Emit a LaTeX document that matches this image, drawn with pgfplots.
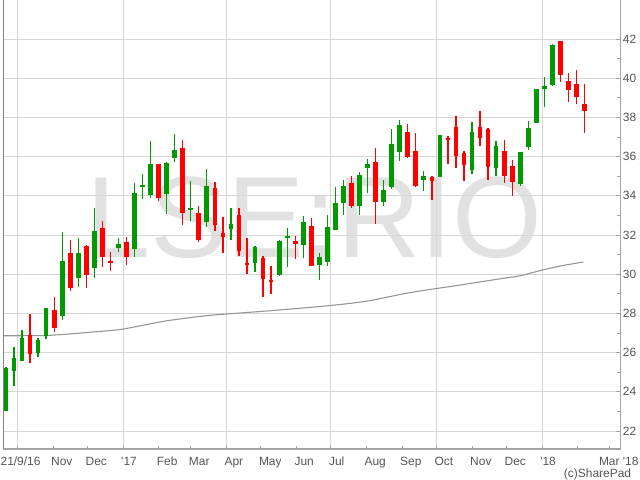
\documentclass[border=0pt]{standalone}
\usepackage{pgfplots}
\pgfplotsset{compat=1.18}
\usepackage{pgfplotstable}
\usepackage{fontspec}
\setmainfont{Liberation Sans}

\definecolor{cgreen}{RGB}{0,153,0}
\definecolor{cred}{RGB}{255,0,0}
\definecolor{gridc}{RGB}{214,214,214}
\definecolor{wmark}{RGB}{225,225,225}
\definecolor{axc}{RGB}{165,165,165}
\definecolor{leftc}{RGB}{130,130,130}
\definecolor{txt}{RGB}{85,85,85}
\definecolor{mac}{RGB}{150,150,150}

% weekly candles, x = days since 1 Jan 2017
\pgfplotstableread{
d o h l c
-102 23.00 25.25 23.00 25.19
-95 25.04 26.30 24.27 25.74
-88 25.55 27.17 25.55 26.76
-74 25.99 26.76 25.75 26.66
-67 26.86 28.29 26.67 28.29
-53 27.88 32.17 27.68 30.69
-39 29.79 31.85 29.33 31.10
-25 30.30 33.38 29.80 32.22
-4 31.35 31.85 31.11 31.56
10 31.27 34.67 30.86 34.16
17 34.43 35.11 33.82 34.57
24 34.03 36.80 33.89 35.64
38 34.08 35.74 33.06 35.69
45 35.91 37.16 35.71 36.36
59 33.31 34.76 32.71 33.38
73 32.65 35.37 32.39 34.52
94 32.31 33.37 31.72 32.55
115 30.58 31.45 30.10 31.38
136 29.97 31.75 29.90 31.67
143 31.86 32.35 30.37 31.93
157 31.50 32.96 30.83 32.66
171 30.48 31.09 29.68 30.87
178 30.61 33.00 30.43 32.40
185 32.26 34.44 32.26 33.63
192 33.64 34.83 33.00 34.49
206 33.47 35.21 33.00 35.06
213 35.43 35.86 34.12 35.62
227 33.69 34.80 33.49 34.29
234 34.46 37.39 34.34 36.64
241 36.21 37.86 35.80 37.61
262 34.83 35.28 34.22 35.02
276 34.97 37.11 34.97 37.11
304 35.34 37.76 35.11 37.27
325 35.40 36.79 35.00 36.55
346 34.61 36.25 34.48 36.25
353 36.47 37.83 36.33 37.47
360 37.69 39.46 37.69 39.46
367 39.43 40.08 38.53 39.62
374 39.67 41.76 39.58 41.71
}\greentab

\pgfplotstableread{
d o h l c
-81 26.91 27.97 25.45 25.91
-60 28.19 28.85 27.03 27.23
-46 31.10 31.76 29.12 29.28
-32 31.46 31.51 29.29 29.97
-18 32.37 32.73 30.35 30.86
-11 30.65 31.13 30.14 30.58
3 31.66 31.91 30.45 30.89
31 35.64 35.64 33.72 33.87
52 36.46 36.85 32.51 33.11
66 33.14 33.48 31.63 31.73
80 34.39 34.70 32.21 32.50
87 32.09 32.91 31.09 31.91
101 33.01 33.40 30.92 31.17
108 30.58 31.84 30.00 30.51
122 30.82 30.95 28.83 29.76
129 29.69 30.44 29.01 29.61
150 31.69 31.94 30.80 31.55
164 32.45 32.86 30.43 30.43
199 34.65 35.00 33.40 33.47
220 35.74 36.42 32.54 33.69
248 37.27 37.64 35.91 35.99
255 36.30 37.20 34.43 34.51
269 34.97 35.02 33.76 34.73
283 36.95 37.03 35.60 36.88
290 37.52 38.07 35.43 36.01
297 36.20 36.28 34.77 35.55
311 37.51 38.34 36.54 36.93
318 37.42 37.47 34.82 35.45
332 36.30 36.86 34.65 34.99
339 35.53 35.82 34.00 34.68
381 41.91 41.91 39.79 40.14
388 39.87 40.26 38.77 39.41
395 39.72 40.43 38.68 39.02
402 38.70 39.72 37.18 38.31
}\redtab

\begin{document}
\begin{tikzpicture}
% watermark (behind everything)
\node[text=wmark, font=\fontsize{116}{116}\selectfont, inner sep=0pt] at (311.2bp,231bp) {LSE:RIO};
\begin{axis}[
  name=ax, at={(0,0)}, anchor=south west,
  scale only axis, width=617.4bp, height=449bp,
  xmin=-104.3, xmax=433.5, ymin=21.08, ymax=43.99,
  axis x line*=bottom, axis y line*=right,
  axis line style={draw=axc, line width=1.2bp},
  tick align=inside,
  tick style={draw=axc, line width=0.9bp},
  major tick length=5bp, minor tick length=4bp,
  ytick={22,24,...,42}, minor y tick num=1,
  ymajorgrids, major grid style={draw=gridc, line width=0.9bp},
  xtick={-92,-61,-31,0,31,59,90,120,151,181,212,243,273,304,334,365,396,424},
  xticklabels={\hspace*{-15bp}21/9/16,Nov,Dec,\textquotesingle17,Feb,Mar,Apr,May,Jun,Jul,Aug,Sep,Oct,Nov,Dec,\textquotesingle18,{},\hspace*{-9bp}Mar \textquotesingle18},
  xtick style={/pgfplots/major tick length=3bp},
  extra x ticks={-92,0,90,181,273,365},
  extra x tick labels={},
  extra x tick style={xmajorgrids=true, /pgfplots/major tick length=6bp},
  /pgf/number format/assume math mode=true,
  ticklabel style={font=\fontsize{12}{12}\selectfont, text=txt},
  yticklabel style={anchor=west, inner sep=0pt, xshift=2bp},
  xticklabel style={anchor=north west, inner sep=0pt, xshift=-2bp, yshift=-8bp},
]
% moving average
\addplot[mac, line width=1.1bp, smooth, tension=0.4] coordinates {
(-104,26.86) (-64,26.88) (-20,27.08) (0,27.20) (38,27.62) (76,27.90)
(125,28.12) (177,28.38) (212,28.62) (250,29.06) (294,29.45) (328,29.76)
(346,29.92) (363,30.18) (381,30.42) (401,30.62)};
% green candles: wicks and bodies
\addplot[draw=none, mark=none, forget plot,
  error bars/.cd, y dir=both, y explicit, error mark=none,
  error bar style={draw=cgreen, line width=1.3bp}]
  table[x=d, y expr={(\thisrow{h}+\thisrow{l})/2}, y error expr={(\thisrow{h}-\thisrow{l})/2}] \greentab;
\addplot[draw=none, mark=none, forget plot,
  error bars/.cd, y dir=both, y explicit, error mark=none,
  error bar style={draw=cgreen, line width=4.7bp}]
  table[x=d, y expr={(\thisrow{o}+\thisrow{c})/2}, y error expr={abs(\thisrow{c}-\thisrow{o})/2}] \greentab;
% red candles
\addplot[draw=none, mark=none, forget plot,
  error bars/.cd, y dir=both, y explicit, error mark=none,
  error bar style={draw=cred, line width=1.3bp}]
  table[x=d, y expr={(\thisrow{h}+\thisrow{l})/2}, y error expr={(\thisrow{h}-\thisrow{l})/2}] \redtab;
\addplot[draw=none, mark=none, forget plot,
  error bars/.cd, y dir=both, y explicit, error mark=none,
  error bar style={draw=cred, line width=4.7bp}]
  table[x=d, y expr={(\thisrow{o}+\thisrow{c})/2}, y error expr={abs(\thisrow{o}-\thisrow{c})/2}] \redtab;
\end{axis}
\draw[leftc, line width=1.3bp] (ax.south west) -- (ax.north west);
\node[anchor=north east, inner sep=0pt, font=\fontsize{12}{12}\selectfont, text=txt]
  at ([xshift=10.6bp, yshift=-19.5bp]ax.south east) {(c)SharePad};
\pgfresetboundingbox
\path[use as bounding box] (-3.3bp,-31bp) rectangle (636.7bp,449bp);
\end{tikzpicture}
\end{document}
